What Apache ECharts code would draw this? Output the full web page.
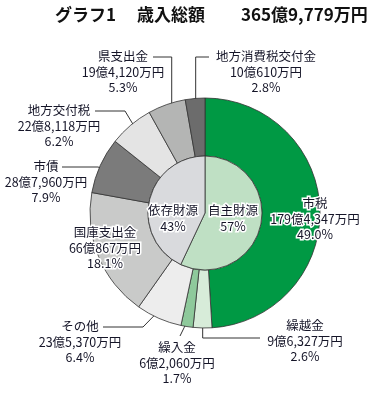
<!DOCTYPE html>
<html><head><meta charset="utf-8">
<script src="https://cdn.jsdelivr.net/npm/echarts@6/dist/echarts.min.js"></script>
<style>html,body{margin:0;padding:0;background:#fff}#c{width:381px;height:400px}</style>
</head><body><div id="c"></div>
<script>
const categories = ['市税','繰越金','繰入金','その他','国庫支出金','市債','地方交付税','県支出金','地方消費税交付金'];
const amounts = [1794347, 96327, 62060, 235370, 660867, 287960, 228118, 194120, 100610]; // 万円
const percentLabels = ['49.0%','2.6%','1.7%','6.4%','18.1%','7.9%','6.2%','5.3%','2.8%'];
const innerNames = ['自主財源','依存財源'];
const innerValues = [57, 43];
const innerPercentLabels = ['57%','43%'];
const titleParts = ['グラフ1','歳入総額','365億9,779万円'];

const colors = ['#009944','#d7ecd9','#8ec99b','#ededed','#c9cac9','#7b7b7b','#e4e4e4','#b4b5b4','#6c6c6c'];
const innerColors = ['#bfe0c4','#d9dadd'];

const CX = 205, CY = 213, R0 = 57, R1 = 115;
const FONT = 'Noto Sans CJK JP';

const outerLayout = [
  {x:315, y:219},
  {x:305, y:341, end:[260,338], vert:true, r:107},
  {x:177, y:363, end:[180,336], r:108},
  {x:80,  y:342, end:[103,327], elbow:[143,327], r:100},
  {x:105, y:248},
  {x:46,  y:182, end:[62,167], elbow:[98,167], r:90},
  {x:59,  y:126, end:[95,111], elbow:[125,111], r:100},
  {x:123, y:72,  end:[153,57], vert:true, r:100},
  {x:266, y:72,  end:[209,57], vert:true, r:108}
];
const innerLayout = [{x:233, y:218}, {x:173, y:218}];
const titleLeft = [55, 137, 241];

const total = amounts.reduce((a, b) => a + b, 0);
let acc = 0;
const midAngles = amounts.map(v => { const m = (acc + v / 2) / total * 2 * Math.PI; acc += v; return m; });
function polar(a, r) { return [CX + r * Math.sin(a), CY - r * Math.cos(a)]; }
function fmtAmount(v) {
  const oku = Math.floor(v / 10000), man = v % 10000;
  return oku + '億' + man.toLocaleString('en-US') + '万円';
}

const labelStyle = {
  fontSize: 12.5, lineHeight: 15.5, color: '#151528', fontFamily: FONT,
  textBorderColor: '#fff', textBorderWidth: 3
};

const chart = echarts.init(document.getElementById('c'), null, {renderer: 'canvas'});
chart.setOption({
  animation: false,
  backgroundColor: '#fff',
  title: titleParts.map((t, i) => ({
    text: t, left: titleLeft[i], top: 6, padding: 0,
    textStyle: {fontSize: 17, fontWeight: 'bold', color: '#111', fontFamily: FONT}
  })),
  series: [
    {
      type: 'pie', center: [CX, CY], radius: [R0, R1], startAngle: 90, clockwise: true,
      silent: true, avoidLabelOverlap: false,
      itemStyle: {borderColor: '#333', borderWidth: 0.8},
      label: Object.assign({show: true, formatter: p => categories[p.dataIndex] + '\n' + fmtAmount(amounts[p.dataIndex]) + '\n' + percentLabels[p.dataIndex]}, labelStyle),
      labelLine: {show: true, showAbove: true, length: 5, length2: 5, smooth: false, lineStyle: {color: '#333', width: 1}},
      labelLayout: function (params) {
        const i = params.dataIndex, L = outerLayout[i];
        const res = {x: L.x, y: L.y, align: 'center', verticalAlign: 'middle'};
        if (L.end) {
          const s = polar(midAngles[i], L.r);
          let e;
          if (L.vert) e = [s[0], L.end[1]];
          else if (L.elbow) e = L.elbow;
          else e = [(s[0] + L.end[0]) / 2, (s[1] + L.end[1]) / 2];
          res.labelLinePoints = [s, e, L.end];
        }
        return res;
      },
      data: categories.map((c, i) => ({
        name: c, value: amounts[i], itemStyle: {color: colors[i]},
        labelLine: outerLayout[i].end ? undefined : {show: false}
      }))
    },
    {
      type: 'pie', center: [CX, CY], radius: [0, R0], startAngle: 90, clockwise: true,
      silent: true,
      itemStyle: {borderColor: '#333', borderWidth: 0.8},
      label: Object.assign({show: true, position: 'inside', formatter: p => innerNames[p.dataIndex] + '\n' + innerPercentLabels[p.dataIndex]}, labelStyle),
      labelLine: {show: false},
      labelLayout: function (params) {
        const L = innerLayout[params.dataIndex];
        return {x: L.x, y: L.y, align: 'center', verticalAlign: 'middle'};
      },
      data: innerNames.map((n, i) => ({name: n, value: innerValues[i], itemStyle: {color: innerColors[i]}}))
    }
  ]
});
</script>
</body></html>
